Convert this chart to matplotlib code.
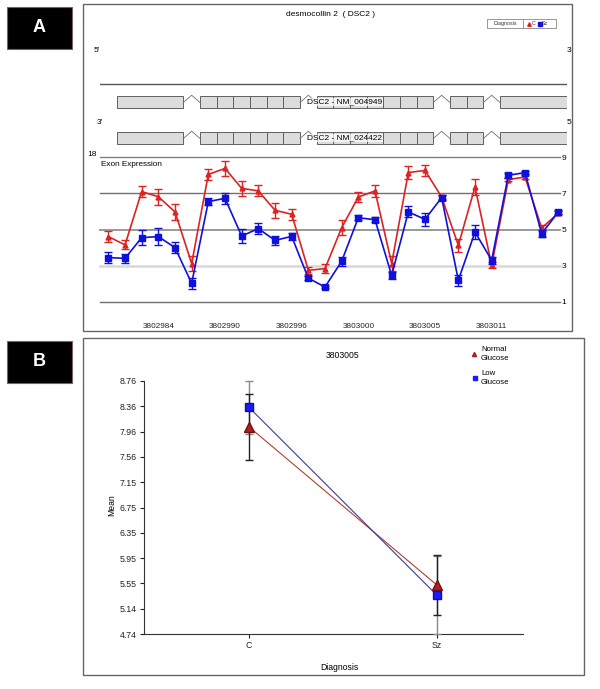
import numpy as np
import matplotlib.pyplot as plt
from matplotlib.patches import Rectangle

plt.rcParams['font.family'] = ['Liberation Sans', 'DejaVu Sans']

# ---- panel A: exon expression per probe set (C vs Sz) ----
probe_labels = ['3802984', '3802990', '3802996', '3803000', '3803005', '3803011']
probe_label_idx = [3, 7, 11, 15, 19, 23]
c_mean = [4.61, 4.15, 7.09, 6.81, 5.97, 3.12, 8.04, 8.37, 7.27, 7.13, 6.06, 5.84, 2.75, 2.84,
          5.10, 6.79, 7.13, 3.12, 8.14, 8.26, 6.79, 4.13, 7.35, 3.03, 7.75, 7.90, 5.08, 5.91]
c_err = [0.28, 0.25, 0.30, 0.45, 0.45, 0.40, 0.30, 0.40, 0.40, 0.30, 0.40, 0.30, 0.20, 0.25,
         0.40, 0.30, 0.35, 0.40, 0.35, 0.30, 0.10, 0.35, 0.45, 0.15, 0.10, 0.10, 0.15, 0.10]
sz_mean = [3.45, 3.41, 4.55, 4.61, 4.00, 2.03, 6.54, 6.72, 4.64, 5.05, 4.40, 4.62, 2.31, 1.83,
           3.25, 5.65, 5.54, 2.47, 5.97, 5.56, 6.76, 2.20, 4.86, 3.30, 7.99, 8.14, 4.77, 5.97]
sz_err = [0.30, 0.25, 0.40, 0.45, 0.30, 0.30, 0.20, 0.30, 0.40, 0.30, 0.25, 0.20, 0.10, 0.08,
          0.25, 0.15, 0.15, 0.20, 0.30, 0.35, 0.15, 0.30, 0.40, 0.20, 0.15, 0.10, 0.20, 0.10]

# gene model (exon start/end in probe units)
exons = [(1, 5), (6, 7), (7, 8), (8, 9), (9, 10), (10, 11), (11, 12),
         (13, 14), (14, 15), (15, 16), (16, 17), (17, 18), (18, 19), (19, 20),
         (21, 22), (22, 23), (24, 28)]
transcripts = ['DSC2 - NM_004949', 'DSC2 - NM_024422']

# ---- panel B: probe 3803005 by diagnosis ----
groups = ['C', 'Sz']
normal_mean = [8.03, 5.52]
normal_err = [0.53, 0.48]
low_mean = [8.34, 5.36]
low_err = [0.42, 0.62]
b_ticklabels = ['4.74', '5.14', '5.55', '5.95', '6.35', '6.75', '7.15', '7.56', '7.96', '8.36', '8.76']

W, H = 600, 689
fig = plt.figure(figsize=(W / 100, H / 100), dpi=100)


def fx(px):
    return px / W


def fy(py):
    return 1 - py / H


# background layer in pixel coords
bg = fig.add_axes([0, 0, 1, 1])
bg.set_xlim(0, W)
bg.set_ylim(H, 0)
bg.axis('off')

# panel frames and letters
bg.add_patch(Rectangle((83, 4), 489, 327, fill=False, ec='#666666', lw=1))
bg.add_patch(Rectangle((83, 338), 501, 337, fill=False, ec='#666666', lw=1))
for lab, y0 in [('A', 7), ('B', 341)]:
    bg.add_patch(Rectangle((7, y0), 65, 42, fc='black', ec='#806060', lw=0.8))
    bg.text(39.5, y0 + 21, lab, color='white', fontsize=13, fontweight='bold',
            ha='center', va='center')

bg.text(331, 14, 'desmocollin 2  ( DSC2 )', fontsize=6, ha='center', va='center')
bg.text(94, 51, "5'", fontsize=6, ha='left', va='center')
bg.text(569, 51, '3', fontsize=6, ha='center', va='center')
bg.text(97, 123, "3'", fontsize=6, ha='left', va='center')
bg.text(569, 122, '5', fontsize=6, ha='center', va='center')
bg.text(92, 154, '18', fontsize=6, ha='center', va='center')
bg.text(101, 164, 'Exon Expression', fontsize=5.9, ha='left', va='center')

# panel A legend
bg.add_patch(Rectangle((487, 19), 69, 9, fill=False, ec='#888888', lw=0.6))
bg.plot([523, 523], [19, 28], color='#888888', lw=0.6)
bg.text(505, 23.5, 'Diagnosis', fontsize=3.8, ha='center', va='center', color='#333333')
bg.plot([529], [23.5], marker='^', ms=2.5, color='#dd2222', ls='none')
bg.text(532, 23.5, 'C', fontsize=3.8, ha='left', va='center', color='#333333')
bg.plot([539.5], [23.5], marker='s', ms=2.8, color='#1010dd', ls='none')
bg.text(542, 23.5, 'Sz', fontsize=3.8, ha='left', va='center', color='#333333')

# gene model axes
gx = fig.add_axes([fx(100), fy(150), fx(467), 70 / H])
gx.set_xlim(0, 467 / (50 / 3))
gx.set_ylim(150, 80)
gx.axis('off')
gx.plot([0, 28], [84.3, 84.3], color='#555555', lw=1)
row_y = [102, 138]
box_h = 12.5
for name, yc in zip(transcripts, row_y):
    for s, e in exons:
        gx.add_patch(Rectangle((s, yc - box_h / 2), e - s, box_h, fc='#dcdcdc',
                               ec='#606060', lw=0.7))
    for (s0, e0), (s1, e1) in zip(exons[:-1], exons[1:]):
        if s1 > e0:
            mid = (e0 + s1) / 2
            gx.plot([e0, mid, s1], [yc + 0.5, yc - box_h / 2 - 0.5, yc + 0.5],
                    color='#707070', lw=0.6)
    gx.text(14.65, yc, name, fontsize=6, ha='center', va='center',
            bbox=dict(boxstyle='square,pad=0.1', fc='white', ec='none', alpha=0.7))

# exon expression axes
ax = fig.add_axes([fx(100), fy(302), fx(467), 145 / H])
ax.set_facecolor('none')
ax.set_xlim(0, 467 / (50 / 3))
ax.set_ylim(1, 9)
for sp in ax.spines.values():
    sp.set_visible(False)
grid_levels = [9, 7, 5, 3, 1]
grid_colors = ['#808080', '#707070', '#999999', '#d8d8d8', '#707070']
grid_widths = [1, 1, 1.4, 1.8, 1]
for lvl, col, lw in zip(grid_levels, grid_colors, grid_widths):
    ax.plot([0, 27.6], [lvl, lvl], color=col, lw=lw, zorder=1, clip_on=False)
xs = np.arange(len(c_mean)) + 0.5
ax.errorbar(xs, c_mean, yerr=c_err, color='#dd2222', lw=1.2, marker='^', ms=3.5,
            capsize=3, elinewidth=1, capthick=1, zorder=3, clip_on=False)
ax.errorbar(xs, sz_mean, yerr=sz_err, color='#1010dd', lw=1.2, marker='s', ms=4,
            capsize=3, elinewidth=1, capthick=1, zorder=4, clip_on=False)
ax.yaxis.tick_right()
ax.set_yticks(grid_levels)
ax.set_yticklabels([str(v) for v in grid_levels])
ax.tick_params(axis='y', length=0, pad=-4, labelsize=6)
ax.set_xticks(xs[probe_label_idx])
ax.set_xticklabels(probe_labels)
ax.tick_params(axis='x', length=0, pad=15, labelsize=5.9, colors='#222222')

# panel B axes
bx = fig.add_axes([fx(144), fy(634), fx(379), 253 / H])
bx.set_facecolor('none')
gx_pos = np.arange(len(groups))
bx.set_xlim(-0.56, 1.46)
bx.set_ylim(4.74, 8.76)
bx.plot(gx_pos, normal_mean, color='#b04030', lw=0.8, zorder=2)
bx.plot(gx_pos, low_mean, color='#3a3aa0', lw=0.8, zorder=2)
bx.errorbar(gx_pos, low_mean, yerr=low_err, fmt='none', ecolor='#8a8a8a', elinewidth=1,
            capsize=3, capthick=1, zorder=3, clip_on=False)
bx.errorbar(gx_pos, normal_mean, yerr=normal_err, fmt='none', ecolor='#222222', elinewidth=1,
            capsize=3, capthick=1, zorder=3, clip_on=False)
bx.plot(gx_pos, normal_mean, ls='none', marker='^', ms=6.5, mfc='#b02020', mec='#701010',
        zorder=5)
bx.plot(gx_pos, low_mean, ls='none', marker='s', ms=6, mfc='#1a1aff', mec='#1010a0', zorder=5)
for side in ['top', 'right']:
    bx.spines[side].set_visible(False)
for side in ['left', 'bottom']:
    bx.spines[side].set_color('#333333')
bx.set_yticks(np.linspace(4.74, 8.76, len(b_ticklabels)))
bx.set_yticklabels(b_ticklabels)
bx.set_xticks(gx_pos)
bx.set_xticklabels(groups)
bx.tick_params(length=3, width=0.8, labelsize=6.3, pad=2, colors='#222222')

fig.text(fx(342), fy(355), '3803005', fontsize=6.2, ha='center', va='center')
fig.text(fx(112), fy(505), 'Mean', fontsize=6.2, rotation=90, ha='center', va='center')
fig.text(fx(339), fy(668), 'Diagnosis', fontsize=6.2, ha='center', va='center')

# panel B legend
bg.plot([474], [354], marker='^', ms=3, color='#b02020', ls='none')
bg.text(481, 354, 'Normal\nGlucose', fontsize=5.6, ha='left', va='center', linespacing=1.3)
bg.plot([475], [378], marker='s', ms=3, color='#1a1aff', ls='none')
bg.text(481, 378, 'Low\nGlucose', fontsize=5.6, ha='left', va='center', linespacing=1.3)

fig.savefig('out.png', dpi=100)
